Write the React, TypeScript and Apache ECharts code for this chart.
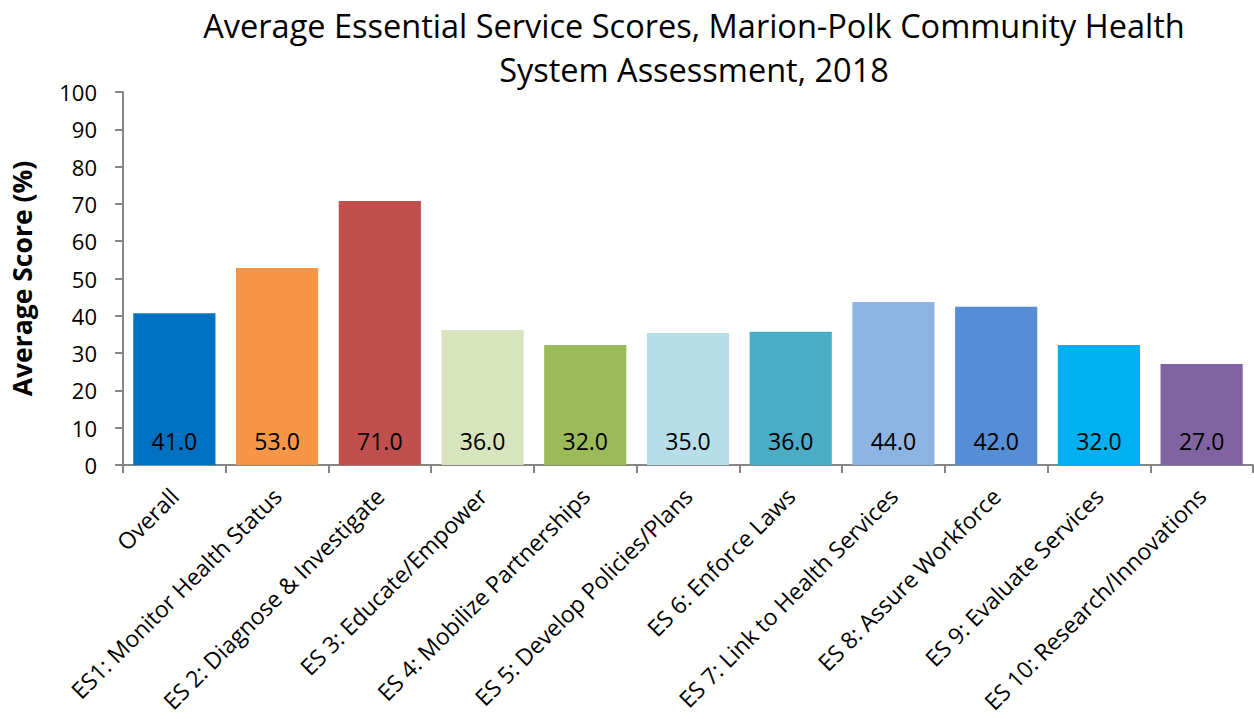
import React, { useEffect, useRef } from "react";
import * as echarts from "echarts";

const categories = [
  "Overall",
  "ES1: Monitor Health Status",
  "ES 2: Diagnose & Investigate",
  "ES 3: Educate/Empower",
  "ES 4: Mobilize Partnerships",
  "ES 5: Develop Policies/Plans",
  "ES 6: Enforce Laws",
  "ES 7: Link to Health Services",
  "ES 8: Assure Workforce",
  "ES 9: Evaluate Services",
  "ES 10: Research/Innovations",
];
const scores = [40.7, 52.8, 70.8, 36.2, 32.2, 35.4, 35.7, 43.7, 42.4, 32.2, 27.1];
const scoreLabels = ["41.0", "53.0", "71.0", "36.0", "32.0", "35.0", "36.0", "44.0", "42.0", "32.0", "27.0"];
const barColors = [
  "#0070C0", "#F79646", "#C0504D", "#D7E4BD", "#9BBB59", "#B7DEE8",
  "#4BACC6", "#8EB4E3", "#558ED5", "#00B0F0", "#8064A2",
];
const titleText = "Average Essential Service Scores, Marion-Polk Community Health\nSystem Assessment, 2018";
const yAxisName = "Average Score (%)";

const FONT = "'Open Sans', 'Noto Sans', sans-serif";

export default function App() {
  const ref = useRef<HTMLDivElement>(null);
  useEffect(() => {
    if (!ref.current) return;
    const chart = echarts.init(ref.current, null, { renderer: "svg" });
    chart.setOption({
      animation: false,
      backgroundColor: "#ffffff",
      textStyle: { fontFamily: FONT },
      graphic: [
        {
          type: "text",
          x: 694,
          y: 3,
          style: {
            text: titleText,
            fontFamily: FONT,
            fontSize: 32.5,
            lineHeight: 44,
            fill: "#000",
            textAlign: "center",
          },
        },
      ],
      grid: { left: 123, right: 1, top: 92, bottom: 254, containLabel: false },
      xAxis: {
        type: "category",
        data: categories,
        boundaryGap: true,
        axisLine: { lineStyle: { color: "#868686", width: 2 } },
        axisTick: { show: true, length: 8, alignWithLabel: false, lineStyle: { color: "#868686", width: 2 } },
        axisLabel: {
          interval: 0,
          rotate: 45,
          margin: 27,
          fontFamily: FONT,
          fontSize: 23,
          color: "#000",
        },
      },
      yAxis: {
        type: "value",
        min: 0,
        max: 100,
        interval: 10,
        name: yAxisName,
        nameLocation: "middle",
        nameGap: 88,
        nameTextStyle: { fontFamily: FONT, fontSize: 26.5, fontWeight: "bold", color: "#000" },
        axisLine: { show: true, lineStyle: { color: "#868686", width: 2 } },
        axisTick: { show: true, length: 8, lineStyle: { color: "#868686", width: 2 } },
        splitLine: { show: false },
        axisLabel: { margin: 26, fontFamily: FONT, fontSize: 22, color: "#000" },
      },
      series: [
        {
          type: "bar",
          barCategoryGap: "20%",
          data: scores.map((v, i) => ({ value: v, itemStyle: { color: barColors[i] } })),
          label: {
            show: true,
            position: "insideBottom",
            distance: 13,
            fontFamily: FONT,
            fontSize: 23,
            color: "#000",
            formatter: (p: any) => scoreLabels[p.dataIndex],
          },
        },
      ],
    });
    return () => chart.dispose();
  }, []);
  return <div ref={ref} style={{ position: "fixed", left: 0, top: 0, width: 1254, height: 719 }} />;
}
